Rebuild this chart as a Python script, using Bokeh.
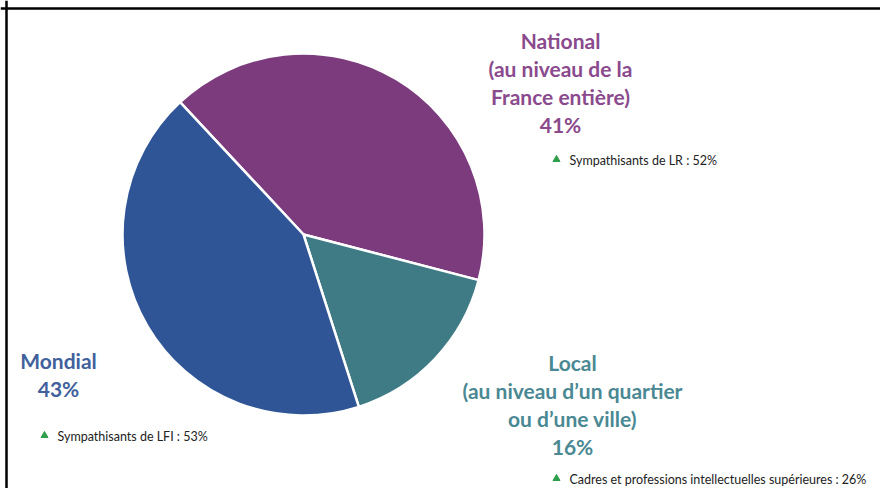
import math
from bokeh.plotting import figure
from bokeh.models import Range1d, Span, ColumnDataSource
from bokeh.core.properties import value
from bokeh.embed import file_html
from bokeh.resources import INLINE

# ---- data ----
categories = ["National", "Local", "Mondial"]
shares = [41, 16, 43]
label_lines = [
    ["National", "(au niveau de la", "France entière)", "41%"],
    ["Local", "(au niveau d\u2019un quartier", "ou d\u2019une ville)", "16%"],
    ["Mondial", "43%"],
]
notes = [
    "Sympathisants de LR : 52%",
    "Cadres et professions intellectuelles supérieures : 26%",
    "Sympathisants de LFI : 53%",
]

# ---- styles / layout ----
slice_colors = ["#7B3B7D", "#3E7B84", "#2F5597"]
text_colors = ["#8A4A8D", "#4A8893", "#41619C"]
W, H = 880, 488

def dx(px):
    return px

def dy(py):
    return H - py

label_centers = [(560, 40), (572, 362), (58, 360)]   # page px of first line
note_pos = [(556, 159), (556, 478), (44, 435)]        # page px of marker
line_step = 28
pie_cx, pie_cy, pie_r = 303, 234, 181
start_deg = 133.0

p = figure(width=W, height=H, x_range=Range1d(0, W), y_range=Range1d(0, H),
           output_backend="svg", toolbar_location=None, min_border=0)
p.axis.visible = False
p.grid.visible = False
p.outline_line_color = None
p.background_fill_color = "white"
p.border_fill_color = "white"

# wedges
starts, ends = [], []
a = math.radians(start_deg)
for s in shares:
    span = math.radians(s / sum(shares) * 360)
    starts.append(a)
    ends.append(a - span)
    a -= span
src = ColumnDataSource(dict(start=starts, end=ends, color=slice_colors, cat=categories))
p.wedge(x=dx(pie_cx), y=dy(pie_cy), radius=pie_r, start_angle="start", end_angle="end",
        direction="clock", fill_color="color", line_color="white", line_width=2.5, source=src)

# labels
for lines, (lx, ly), col in zip(label_lines, label_centers, text_colors):
    xs = [dx(lx)] * len(lines)
    ys = [dy(ly + i * line_step) for i in range(len(lines))]
    p.text(x=xs, y=ys, text=lines, text_align="center", text_baseline="middle",
           text_font=value("Lato"), text_font_style="bold", text_font_size="21px",
           text_color=col)

# notes
for note, (nx, ny) in zip(notes, note_pos):
    p.scatter(x=[dx(nx)], y=[dy(ny)], marker="triangle", size=7,
              fill_color="#2E9E4A", line_color="#2E9E4A")
    p.text(x=[dx(nx + 13)], y=[dy(ny + 1)], text=[note], text_align="left",
           text_baseline="middle", text_font=value("Lato"), text_font_size="12.5px",
           text_color="#222222")

# frame lines (top and left)
p.add_layout(Span(location=dx(6), dimension="height", line_color="black", line_width=2.5))
p.add_layout(Span(location=dy(8), dimension="width", line_color="black", line_width=2.5))

open("out.html", "w").write(file_html(p, INLINE))
